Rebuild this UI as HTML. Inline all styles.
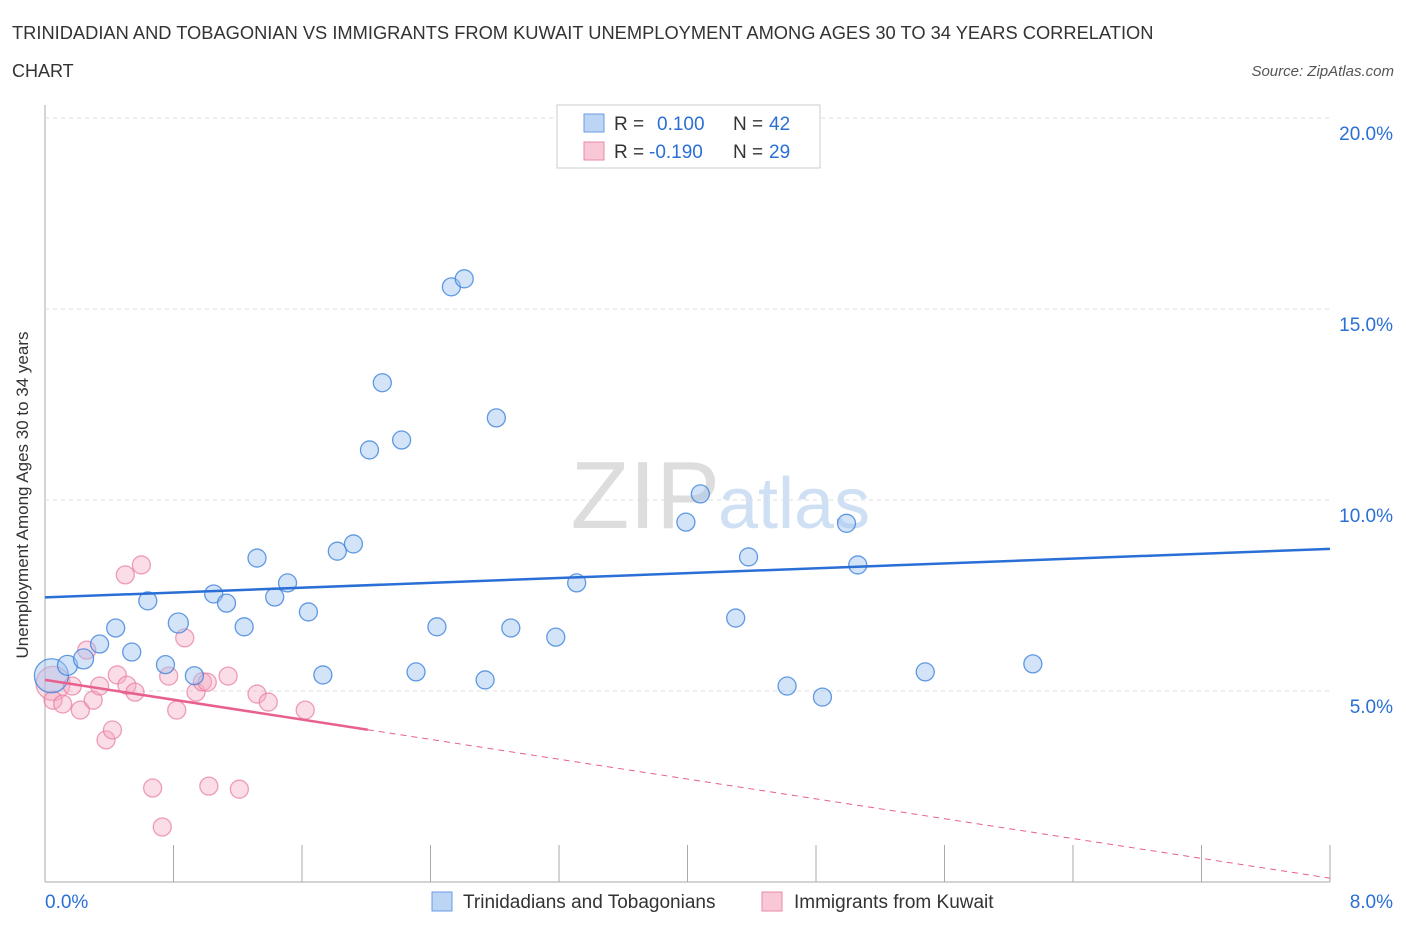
<!DOCTYPE html>
<html><head><meta charset="utf-8"><style>
body{margin:0;background:#fff;font-family:"Liberation Sans",sans-serif;}
svg text{font-family:"Liberation Sans",sans-serif;}
</style></head><body>
<svg id="c" width="1406" height="930">
<text x="12" y="39" font-size="18.3" fill="#333">TRINIDADIAN AND TOBAGONIAN VS IMMIGRANTS FROM KUWAIT UNEMPLOYMENT AMONG AGES 30 TO 34 YEARS CORRELATION</text>
<text x="12" y="77" font-size="18" fill="#333">CHART</text>
<text x="1394" y="76" font-size="15" fill="#555" font-style="italic" text-anchor="end">Source: ZipAtlas.com</text>
<text x="720" y="528" font-size="96" fill="#ddd" text-anchor="end" font-family="Liberation Serif">ZIP</text>
<text x="718" y="528" font-size="72" fill="#cfe0f5">atlas</text>
<text x="28" y="495" font-size="17" fill="#333" text-anchor="middle" transform="rotate(-90 28 495)">Unemployment Among Ages 30 to 34 years</text>
<g id="grid"></g><g id="marks"></g>
<g>
<rect x="557" y="105" width="263" height="63" fill="#fff" stroke="#ccc"/>
<rect x="584" y="114" width="20" height="18" fill="#bcd5f5" stroke="#6a9be0"/>
<text x="614" y="130" font-size="19" fill="#333">R = </text><text x="657" y="130" font-size="19" fill="#2a6fd6">0.100</text>
<text x="733" y="130" font-size="19" fill="#333">N = </text><text x="769" y="130" font-size="19" fill="#2a6fd6">42</text>
<rect x="584" y="142" width="20" height="18" fill="#f9c8d6" stroke="#e88aa6"/>
<text x="614" y="158" font-size="19" fill="#333">R = </text><text x="649" y="158" font-size="19" fill="#2a6fd6">-0.190</text>
<text x="733" y="158" font-size="19" fill="#333">N = </text><text x="769" y="158" font-size="19" fill="#2a6fd6">29</text>
</g>
<g>
<rect x="432" y="892" width="20" height="19" fill="#bcd5f5" stroke="#6a9be0"/>
<text x="463" y="908" font-size="19" fill="#333">Trinidadians and Tobagonians</text>
<rect x="762" y="892" width="20" height="19" fill="#f9c8d6" stroke="#e88aa6"/>
<text x="794" y="908" font-size="19" fill="#333">Immigrants from Kuwait</text>
</g>
</svg>
<script>
const yTicks=[5,10,15,20];
const xTickLabels=["0.0%","8.0%"];
const blueX=[0.04,0.14,0.24,0.34,0.44,0.54,0.64,0.75,0.83,0.93,1.05,1.13,1.24,1.32,1.43,1.51,1.64,1.73,1.82,1.92,2.02,2.10,2.22,2.31,2.44,2.53,2.61,2.74,2.81,2.90,3.18,3.31,3.99,4.08,4.30,4.38,4.62,4.84,4.99,5.06,5.48,6.15];
const blueY=[5.4,5.67,5.84,6.23,6.65,6.02,7.36,5.69,6.78,5.4,7.54,7.3,6.68,8.48,7.46,7.83,7.07,5.42,8.66,8.85,11.31,13.07,11.57,5.5,6.68,15.58,15.79,5.29,12.15,6.65,6.41,7.83,9.42,10.16,6.91,8.51,5.13,4.84,9.39,8.3,5.5,5.71];
const blueR=[17,10,10,9,9,9,9,9,10,9,9,9,9,9,9,9,9,9,9,9,9,9,9,9,9,9,9,9,9,9,9,9,9,9,9,9,9,9,9,9,9,9];
const pinkX=[0.05,0.05,0.11,0.17,0.22,0.30,0.34,0.38,0.42,0.45,0.51,0.50,0.56,0.60,0.67,0.73,0.82,0.77,0.87,0.94,0.98,1.02,1.01,1.14,1.21,1.32,1.39,1.62,0.26];
const pinkY=[5.2,4.76,4.66,5.13,4.5,4.76,5.13,3.72,3.98,5.42,5.15,8.04,4.97,8.3,2.46,1.44,4.5,5.39,6.39,4.97,5.24,2.51,5.23,5.39,2.43,4.92,4.71,4.5,6.07];
const pinkR=[17,9,9,9,9,9,9,9,9,9,9,9,9,9,9,9,9,9,9,9,9,9,9,9,9,9,9,9,9];
const blueFit=[7.45,8.72];
const pinkFit=[5.29,0.1];
const X=v=>45+v/8*1285, Y=v=>882-v/5*191;
const NS="http://www.w3.org/2000/svg";
function mk(t,a,p){const e=document.createElementNS(NS,t);for(const k in a)e.setAttribute(k,a[k]);p.appendChild(e);return e;}
const g=document.getElementById('grid'), m=document.getElementById('marks');
let ax=mk('line',{x1:45,y1:105,x2:45,y2:882,stroke:'#aaa'},g);


let bx=mk('line',{x1:45,y1:882,x2:1330,y2:882,stroke:'#aaa'},g);


for(let i=1;i<=10;i++){let t=mk('line',{x1:45+i*128.5,y1:845,x2:45+i*128.5,y2:882,stroke:'#aaa'},g);

}
yTicks.forEach(v=>{let l=mk('line',{x1:45,x2:1330,y1:Y(v),y2:Y(v),stroke:'#ddd','stroke-dasharray':'4 4'},g);


let t=mk('text',{x:1393,y:Y(v)+22,'font-size':19,fill:'#2a6fd6','text-anchor':'end'},g);t.textContent=v.toFixed(1)+'%';

});
let t0=mk('text',{x:45,y:908,'font-size':19,fill:'#2a6fd6'},g);t0.textContent=xTickLabels[0];


let t1=mk('text',{x:1393,y:908,'font-size':19,fill:'#2a6fd6','text-anchor':'end'},g);t1.textContent=xTickLabels[1];


pinkX.forEach((x,i)=>{let c=mk('circle',{cx:X(x),cy:Y(pinkY[i]),r:pinkR[i],fill:'rgba(246,170,195,0.4)',stroke:'rgba(232,120,155,0.7)','stroke-width':1.3},m);

});
blueX.forEach((x,i)=>{let c=mk('circle',{cx:X(x),cy:Y(blueY[i]),r:blueR[i],fill:'rgba(160,195,240,0.45)',stroke:'rgba(60,130,220,0.8)','stroke-width':1.3},m);

});
let bl=mk('line',{x1:X(0),y1:Y(blueFit[0]),x2:X(8),y2:Y(blueFit[1]),stroke:'#2a6fd6','stroke-width':2.5},m);


const pAt=x=>pinkFit[0]+(pinkFit[1]-pinkFit[0])*x/8;
let pl=mk('line',{x1:X(0),y1:Y(pAt(0)),x2:X(2.01),y2:Y(pAt(2.01)),stroke:'#e8608c','stroke-width':2.5},m);


let pd=mk('line',{x1:X(2.01),y1:Y(pAt(2.01)),x2:X(8),y2:Y(pAt(8)),stroke:'#e8608c','stroke-width':1,'stroke-dasharray':'6 5'},m);


</script>
</body></html>
